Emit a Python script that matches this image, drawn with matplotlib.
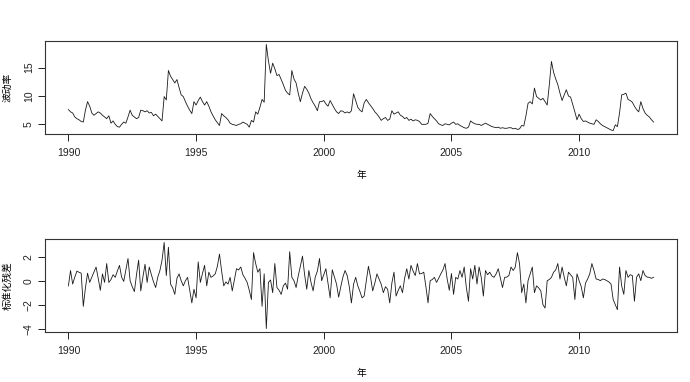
import numpy as np
import matplotlib
matplotlib.use("Agg")
import matplotlib.pyplot as plt

plt.rcParams['font.family'] = ['Liberation Sans Narrow', 'Liberation Sans', 'Noto Sans CJK SC', 'DejaVu Sans']

start_year = 1990
# monthly volatility (波动率), Jan 1990 - Dec 2012
vol = [
    7.6, 7.2, 7.0, 6.3, 6.0, 5.8, 5.5, 5.4, 7.5, 9.0, 8.2, 7.0,      # 1990
    6.6, 6.9, 7.2, 7.0, 6.6, 6.3, 6.0, 6.5, 5.2, 5.6, 5.0, 4.6,      # 1991
    4.5, 5.0, 5.4, 5.2, 6.3, 7.5, 6.6, 6.3, 6.0, 6.2, 7.5, 7.4,      # 1992
    7.2, 7.4, 7.0, 7.1, 6.5, 6.8, 6.4, 6.0, 5.6, 9.9, 9.3, 14.5,     # 1993
    13.5, 12.9, 12.3, 12.9, 11.5, 10.2, 9.9, 9.0, 8.2, 7.5, 6.9, 9.0,  # 1994
    8.4, 9.2, 9.8, 9.0, 8.4, 9.0, 8.2, 7.2, 6.5, 5.8, 5.3, 4.8,      # 1995
    6.9, 6.5, 6.2, 5.8, 5.2, 5.0, 4.9, 4.8, 5.0, 5.1, 5.4, 5.2,      # 1996
    5.0, 4.5, 5.7, 5.4, 7.2, 6.8, 8.0, 9.4, 8.9, 19.1, 16.2, 14.0,   # 1997
    15.8, 14.8, 13.6, 13.8, 12.9, 12.0, 11.0, 10.5, 10.2, 14.5, 13.0, 12.3,  # 1998
    10.5, 9.0, 10.5, 11.7, 11.2, 10.5, 9.5, 8.8, 8.2, 7.4, 9.0, 9.0,  # 1999
    9.2, 8.6, 8.2, 9.2, 8.5, 7.8, 7.2, 6.9, 7.4, 7.3, 7.0, 7.2,      # 2000
    7.0, 7.4, 10.4, 9.2, 8.0, 7.5, 7.2, 8.8, 9.4, 8.8, 8.3, 7.8,     # 2001
    7.2, 6.8, 6.3, 5.7, 6.0, 6.2, 5.7, 5.9, 7.4, 6.8, 7.0, 7.2,      # 2002
    6.6, 6.4, 6.0, 6.2, 5.7, 5.9, 5.6, 5.8, 5.7, 5.5, 5.0, 5.0,      # 2003
    5.0, 5.2, 6.9, 6.4, 6.0, 5.6, 5.1, 4.9, 4.8, 5.1, 5.0, 4.9,      # 2004
    5.2, 5.4, 5.0, 5.1, 4.8, 4.6, 4.4, 4.3, 4.5, 5.6, 5.3, 5.1,      # 2005
    5.0, 5.0, 4.8, 5.0, 5.2, 5.0, 4.8, 4.6, 4.5, 4.4, 4.5, 4.3,      # 2006
    4.4, 4.3, 4.3, 4.4, 4.4, 4.2, 4.3, 4.1, 4.2, 4.8, 4.7, 6.5,      # 2007
    8.7, 9.0, 8.6, 11.4, 9.9, 9.6, 9.3, 9.6, 9.0, 8.4, 12.0, 16.1,   # 2008
    14.2, 13.0, 12.0, 10.5, 9.2, 10.2, 11.1, 10.0, 9.8, 8.5, 7.2, 5.8,  # 2009
    6.8, 6.0, 5.5, 5.6, 5.4, 5.2, 5.1, 5.0, 5.8, 5.5, 5.1, 4.8,      # 2010
    4.6, 4.4, 4.2, 4.0, 3.9, 4.9, 4.6, 7.0, 10.2, 10.3, 10.5, 9.4,   # 2011
    9.2, 8.9, 8.2, 7.6, 7.2, 9.0, 7.8, 7.0, 6.6, 6.3, 5.8, 5.4,      # 2012
]

# standardized residuals (标准化残差)
resid = [
    -0.43, 0.85, -0.28, 0.3, 0.8, 0.7, 0.63, -2.14, -0.6, 0.63, -0.14, 0.3,     # 1990
    0.71, 1.14, 0.2, -0.8, 0.57, -0.14, 1.43, -0.14, 0.1, 0.5, 0.28, 0.8,       # 1991
    1.28, 0.3, -0.06, 0.9, 1.85, 0.0, -0.5, -0.91, 0.5, 1.71, -0.85, 0.3,       # 1992
    1.37, -0.14, 1.14, 0.5, -0.1, -0.57, 0.3, 0.85, 1.71, 3.19, 0.43, 2.79,     # 1993
    -0.28, -0.6, -1.14, 0.2, 0.57, 0.0, -0.43, 0.0, 0.28, -0.8, -1.85, -0.71,   # 1994
    -1.43, 1.57, -0.14, 0.6, 1.28, -0.43, 0.71, 0.28, 0.4, 0.57, 1.2, 2.22,     # 1995
    0.8, -0.43, -0.1, -0.28, 0.28, -0.85, 0.1, 1.0, 0.9, 1.14, 0.5, 0.2,        # 1996
    -0.14, -0.8, -1.57, 2.34, 1.43, 0.71, 1.0, -2.14, 0.57, -3.99, -0.14, 0.06, # 1997
    -1.0, 1.43, -0.57, -0.8, -1.14, -0.43, -0.2, -0.71, 2.42, 0.28, 0.0, -0.57, # 1998
    0.4, 1.2, 2.05, 0.5, -0.71, 0.85, -0.14, -0.85, 0.3, 0.8, 1.85, 0.0,        # 1999
    0.5, 1.0, -0.2, -1.43, 0.91, 0.3, -0.28, -1.37, -0.5, 0.3, 0.85, 0.43,      # 2000
    -0.5, -1.85, -0.3, 0.28, -0.43, -0.9, -1.43, -1.28, 0.0, 1.2, 0.28, -0.85,  # 2001
    -0.2, 0.57, 0.14, -0.3, -1.0, -0.5, -0.71, -1.85, -0.2, 0.71, -1.28, -0.8,  # 2002
    -0.43, -1.0, 0.2, 1.0, 0.14, 1.28, 0.8, 0.43, 1.43, 0.57, 0.6, 0.71,        # 2003
    -0.5, -1.85, 0.0, 0.1, 0.28, -0.14, 0.2, 0.57, 0.9, 1.43, 0.14, -0.8,       # 2004
    0.6, -1.14, 0.28, 0.14, 0.85, 0.28, 1.14, -0.57, -1.71, 1.0, 0.14, 1.28,    # 2005
    -0.28, 1.14, 0.28, -1.28, 0.85, 0.5, 0.71, 0.4, 0.28, 0.57, 1.0, 0.2,       # 2006
    -0.57, 0.28, 0.3, 0.43, 1.14, 0.85, 1.14, 2.34, 1.43, -1.0, -0.28, -1.85,   # 2007
    0.0, 0.57, 1.14, -1.0, -0.43, -0.6, -0.85, -2.0, -2.28, 0.0, 0.1, 0.28,     # 2008
    0.71, 0.9, 1.43, 0.14, 1.14, 0.3, -0.43, 0.71, 0.5, 0.28, -1.57, 0.57,      # 2009
    0.0, -0.5, -1.43, -0.2, 0.14, 0.57, 1.43, 0.85, 0.14, 0.1, 0.0, 0.14,       # 2010
    0.1, 0.0, -0.1, -0.28, -1.57, -2.0, -2.42, 1.14, -0.43, -1.14, 0.85, 0.28,  # 2011
    0.5, 0.43, -1.71, 0.28, 0.57, 0.0, 0.85, 0.43, 0.3, 0.28, 0.2, 0.28,        # 2012
]

x_ticks = [1990, 1995, 2000, 2005, 2010]
vol_ticks = [5, 10, 15]
resid_ticks = [-4, -2, 0, 2]
xlabel = "年"
vol_label = "波动率"
resid_label = "标准化残差"

t = start_year + np.arange(len(vol)) / 12.0

W, H = 690, 382
fig = plt.figure(figsize=(W / 100, H / 100), dpi=100)

def rect(x0, y0, x1, y1):
    return [x0 / W, 1 - y1 / H, (x1 - x0) / W, (y1 - y0) / H]

def pad(lo, hi):
    r = hi - lo
    return lo - 0.04 * r, hi + 0.04 * r

cjk = ['Noto Sans CJK SC', 'DejaVu Sans']

def panel(ax, y, yticks, ylab):
    ax.plot(t, y, color='#1a1a1a', lw=0.6)
    ax.set_xlim(*pad(t.min(), t.max()))
    ax.set_ylim(*pad(min(y), max(y)))
    ax.set_xticks(x_ticks)
    ax.set_yticks(yticks)
    ax.tick_params(direction='out', length=5, width=0.7, labelsize=7.5,
                   colors='#222222', pad=3)
    for lab in ax.get_yticklabels():
        lab.set_rotation(90)
        lab.set_va('center')
    ax.tick_params(axis='x', pad=5)
    for s in ax.spines.values():
        s.set_linewidth(0.8)
        s.set_color('#333333')
    ax.set_xlabel(xlabel, family=cjk, fontsize=7, labelpad=9)
    ax.set_ylabel(ylab, family=cjk, fontsize=7, labelpad=8)

ax1 = fig.add_axes(rect(45, 41, 677, 134))
panel(ax1, vol, vol_ticks, vol_label)
ax2 = fig.add_axes(rect(45, 239, 677, 332))
panel(ax2, resid, resid_ticks, resid_label)

fig.savefig("out.png", dpi=100)
